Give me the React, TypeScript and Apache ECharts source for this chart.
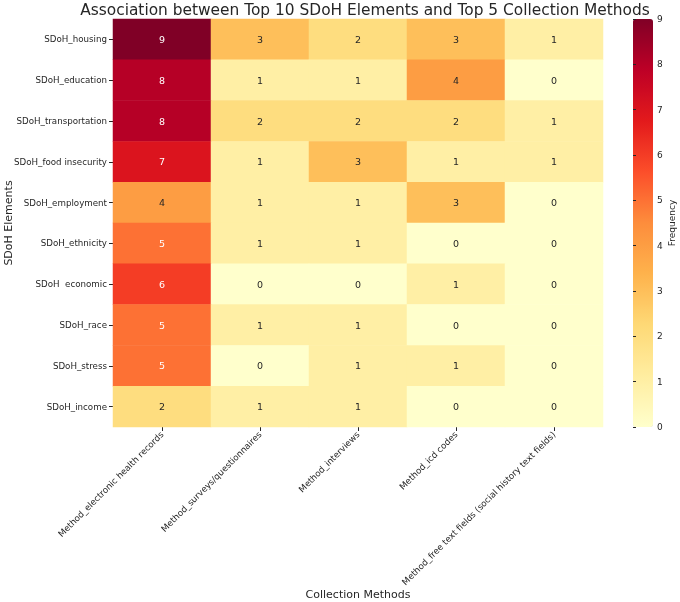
import React, { useEffect, useRef } from "react";
import * as echarts from "echarts";

const methods = [
  "Method_electronic health records",
  "Method_surveys/questionnaires",
  "Method_interviews",
  "Method_icd codes",
  "Method_free text fields (social history text fields)",
];
const elements = [
  "SDoH_housing",
  "SDoH_education",
  "SDoH_transportation",
  "SDoH_food insecurity",
  "SDoH_employment",
  "SDoH_ethnicity",
  "SDoH  economic",
  "SDoH_race",
  "SDoH_stress",
  "SDoH_income",
];
const counts = [
  [9, 3, 2, 3, 1],
  [8, 1, 1, 4, 0],
  [8, 2, 2, 2, 1],
  [7, 1, 3, 1, 1],
  [4, 1, 1, 3, 0],
  [5, 1, 1, 0, 0],
  [6, 0, 0, 1, 0],
  [5, 1, 1, 0, 0],
  [5, 0, 1, 1, 0],
  [2, 1, 1, 0, 0],
];
const colorbarTicks = [0, 1, 2, 3, 4, 5, 6, 7, 8, 9];
const ylOrRd = [
  "#ffffcc",
  "#ffeda0",
  "#fed976",
  "#feb24c",
  "#fd8d3c",
  "#fc4e2a",
  "#e31a1c",
  "#bd0026",
  "#800026",
];

const FONT = "DejaVu Sans";
const TXT = "#262626";

export default function App() {
  const ref = useRef<HTMLDivElement>(null);
  useEffect(() => {
    if (!ref.current) return;
    const chart = echarts.init(ref.current, undefined, { renderer: "svg" });
    const data: any[] = [];
    counts.forEach((row, yi) =>
      row.forEach((v, xi) => {
        data.push({
          value: [xi, yi, v],
          label: { color: v >= 5 ? "#ffffff" : TXT },
        });
      })
    );
    const gTop = 19;
    const gH = 408;
    chart.setOption({
      animation: false,
      textStyle: { fontFamily: FONT },
      title: {
        text: "Association between Top 10 SDoH Elements and Top 5 Collection Methods",
        left: 360,
        textAlign: "center",
        top: -3,
        textStyle: { fontFamily: FONT, fontSize: 15.4, fontWeight: "normal", color: TXT },
      },
      grid: [
        { left: 113, top: gTop, width: 490, height: gH, outerBoundsMode: "none", containLabel: false },
        { left: 633, top: gTop, width: 20, height: gH, outerBoundsMode: "none", containLabel: false },
      ],
      xAxis: [
        {
          type: "category",
          gridIndex: 0,
          data: methods,
          name: "Collection Methods",
          nameLocation: "middle",
          nameGap: 162,
          nameMoveOverlap: false,
          nameTextStyle: { fontFamily: FONT, fontSize: 11, color: TXT },
          axisLine: { show: false },
          axisTick: { show: true, alignWithLabel: true, length: 4, lineStyle: { color: TXT } },
          axisLabel: { rotate: 45, fontSize: 8.7, color: TXT, fontFamily: FONT, margin: 6, interval: 0 },
          splitLine: { show: false },
        },
        {
          type: "value",
          gridIndex: 1,
          show: false,
          min: 0,
          max: 1,
        },
      ],
      yAxis: [
        {
          type: "category",
          gridIndex: 0,
          data: elements,
          inverse: true,
          name: "SDoH Elements",
          nameLocation: "middle",
          nameGap: 99,
          nameMoveOverlap: false,
          nameTextStyle: { fontFamily: FONT, fontSize: 11, color: TXT },
          axisLine: { show: false },
          axisTick: { show: true, alignWithLabel: true, length: 4, lineStyle: { color: TXT } },
          axisLabel: { fontSize: 8.7, color: TXT, fontFamily: FONT, margin: 6, interval: 0 },
          splitLine: { show: false },
        },
        {
          type: "value",
          gridIndex: 1,
          position: "right",
          min: colorbarTicks[0],
          max: colorbarTicks[colorbarTicks.length - 1],
          interval: 1,
          name: "Frequency",
          nameLocation: "middle",
          nameGap: 14,
          nameMoveOverlap: false,
          nameTextStyle: { fontFamily: FONT, fontSize: 9, color: TXT },
          axisLine: { show: false },
          axisTick: { show: true, inside: false, length: 3, lineStyle: { color: TXT } },
          axisLabel: { fontSize: 9, color: TXT, fontFamily: FONT, margin: 4 },
          splitLine: { show: false },
          z: 10,
        },
      ],
      visualMap: {
        type: "continuous",
        min: 0,
        max: 9,
        seriesIndex: 0,
        calculable: false,
        show: true,
        left: 633,
        top: gTop,
        itemWidth: 20,
        itemHeight: gH,
        padding: 0,
        text: ["", ""],
        showLabel: false,
        inRange: { color: ylOrRd },
      },
      series: [
        {
          type: "heatmap",
          xAxisIndex: 0,
          yAxisIndex: 0,
          data,
          label: { show: true, fontSize: 9.5, fontFamily: FONT },
          itemStyle: { borderWidth: 0 },
          emphasis: { disabled: true },
        },
        {
          type: "scatter",
          xAxisIndex: 1,
          yAxisIndex: 1,
          data: [],
          silent: true,
        },
      ],
    });
    return () => chart.dispose();
  }, []);
  return (
    <div
      ref={ref}
      style={{ position: "fixed", left: 0, top: 0, width: 680, height: 602 }}
    />
  );
}
